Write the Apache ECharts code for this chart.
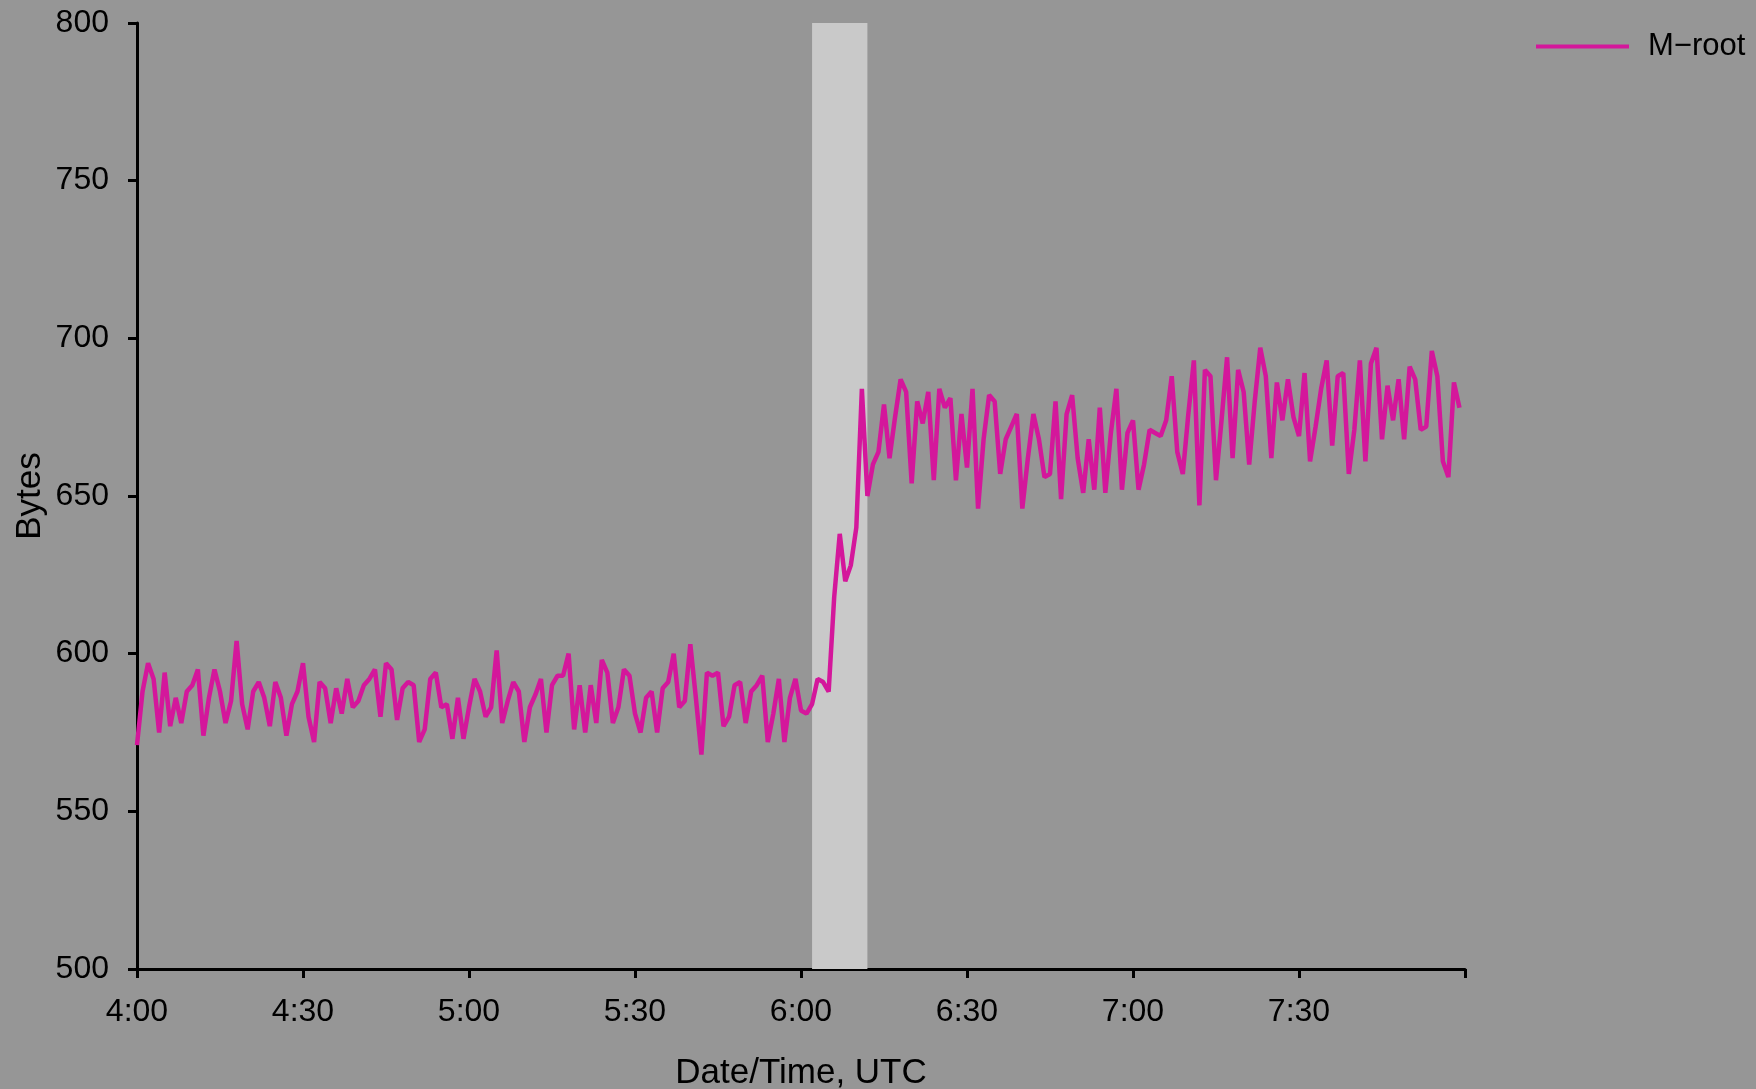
<!DOCTYPE html>
<html>
<head>
<meta charset="utf-8">
<script src="https://cdn.jsdelivr.net/npm/echarts@6/dist/echarts.min.js"></script>
<style>
  html, body { margin: 0; padding: 0; background: #969696; }
  #chart { width: 1756px; height: 1089px; }
</style>
</head>
<body>
<div id="chart"></div>
<script>
// Minutes after 4:00 UTC, one sample per minute
const startMinute = 0;
const stepMinutes = 1;
const seriesName = 'M\u2212root';
const bytes = [
  571,588,597,592,575,594,577,586,578,588,590,595,574,586,595,588,578,585,604,584,
  576,588,591,586,577,591,586,574,584,588,597,580,572,591,589,578,589,581,592,583,
  585,590,592,595,580,597,595,579,589,591,590,572,576,592,594,583,584,573,586,573,
  583,592,588,580,583,601,578,585,591,588,572,583,587,592,575,590,593,593,600,576,
  590,575,590,578,598,594,578,583,595,593,581,575,586,588,575,589,591,600,583,585,
  603,586,568,594,593,594,577,580,590,591,578,588,590,593,572,581,592,572,586,592,
  582,581,584,592,591,588,618,638,623,628,640,684,650,660,664,679,662,675,687,683,
  654,680,673,683,655,684,678,681,655,676,659,684,646,668,682,680,657,668,672,676,
  646,662,676,668,656,657,680,649,676,682,662,651,668,652,678,651,670,684,652,670,
  674,652,660,671,670,669,674,688,664,657,676,693,647,690,688,655,674,694,662,690,
  683,660,680,697,688,662,686,674,687,675,669,689,661,672,684,693,666,688,689,657,
  671,693,661,692,697,668,685,674,687,668,691,687,671,672,696,688,661,656,686,678
];
// Shaded event window (minutes after 4:00)
const eventWindow = [122, 132];
// X axis: minutes after 4:00, ticks every 30
const xTickLabels = ['4:00','4:30','5:00','5:30','6:00','6:30','7:00','7:30',''];
const xMin = 0, xMax = 240, xInterval = 30;
const yMin = 500, yMax = 800, yInterval = 50;

const seriesData = bytes.map((v, i) => [startMinute + i * stepMinutes, v]);

const chart = echarts.init(document.getElementById('chart'));
const font = 'Liberation Sans, Arial, Helvetica, sans-serif';
chart.setOption({
  backgroundColor: '#969696',
  animation: false,
  textStyle: { fontFamily: font, color: '#000' },
  grid: { left: 137, right: 291, top: 23, bottom: 120, containLabel: false, outerBoundsMode: 'none' },
  legend: {
    data: [{ name: seriesName, icon: 'rect' }],
    left: 1531, top: 26,
    itemWidth: 93, itemHeight: 4,
    textStyle: { fontSize: 31, color: '#000', fontFamily: font, padding: [0, 0, 0, 14] }
  },
  xAxis: {
    type: 'value', min: xMin, max: xMax, interval: xInterval,
    name: 'Date/Time, UTC', nameLocation: 'middle', nameGap: 87,
    nameMoveOverlap: false,
    nameTextStyle: { fontSize: 35, color: '#000', fontFamily: font },
    splitLine: { show: false },
    axisLine: { show: true, onZero: false, lineStyle: { color: '#000', width: 3 } },
    axisTick: { show: true, inside: false, length: 9, lineStyle: { color: '#000', width: 3 } },
    axisLabel: { fontSize: 32, color: '#000', margin: 27, fontFamily: font,
      formatter: v => xTickLabels[Math.round((v - xMin) / xInterval)] || '' }
  },
  yAxis: {
    type: 'value', min: yMin, max: yMax, interval: yInterval,
    name: 'Bytes', nameLocation: 'middle', nameGap: 89, nameRotate: 90,
    nameMoveOverlap: false,
    nameTextStyle: { fontSize: 35, color: '#000', fontFamily: font },
    splitLine: { show: false },
    axisLine: { show: true, lineStyle: { color: '#000', width: 3 } },
    axisTick: { show: true, inside: false, length: 9, lineStyle: { color: '#000', width: 3 } },
    axisLabel: { fontSize: 32, color: '#000', margin: 28, fontFamily: font }
  },
  series: [{
    name: seriesName,
    type: 'line',
    data: seriesData,
    showSymbol: false,
    symbol: 'none',
    color: '#d4179b',
    lineStyle: { color: '#d4179b', width: 4.5 },
    markArea: {
      silent: true,
      itemStyle: { color: '#c9c9c9', opacity: 1 },
      data: [[{ xAxis: eventWindow[0] }, { xAxis: eventWindow[1] }]]
    }
  }]
});
</script>
</body>
</html>
